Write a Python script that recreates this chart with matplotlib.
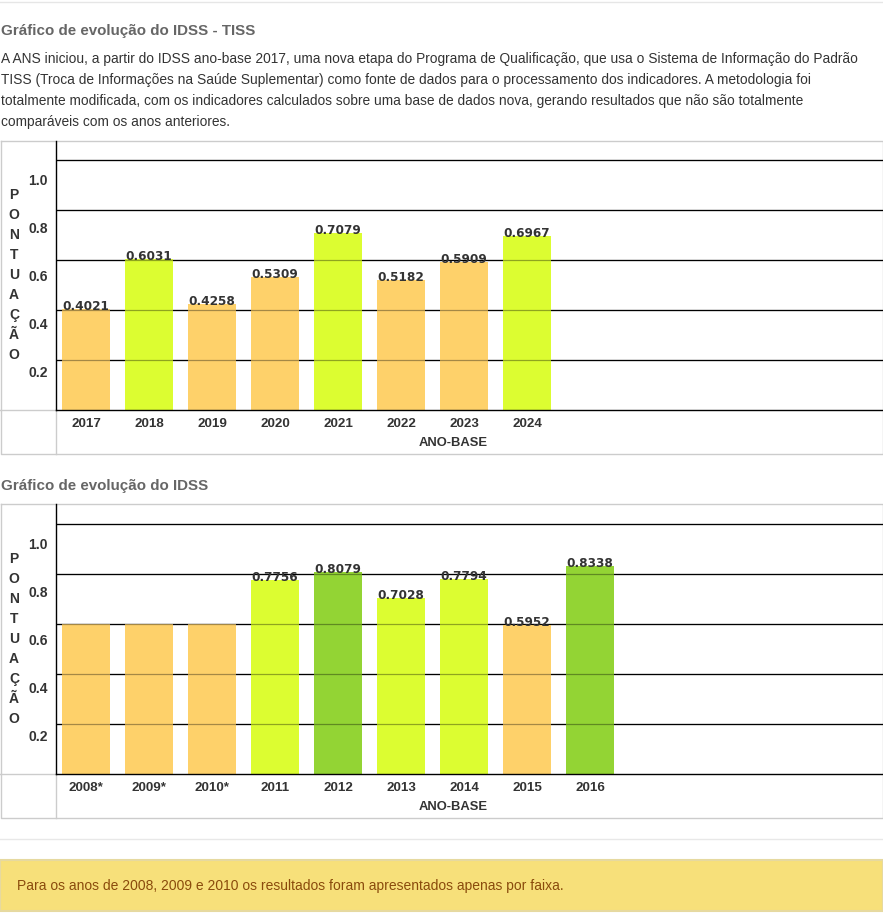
import matplotlib
matplotlib.use("Agg")
import matplotlib.pyplot as plt
import matplotlib.transforms as mtransforms

plt.rcParams['font.family'] = ['Liberation Sans', 'DejaVu Sans']

W, H = 883, 914
DPI = 100

# dados
anos_tiss = ["2017", "2018", "2019", "2020", "2021", "2022", "2023", "2024"]
idss_tiss = [0.4021, 0.6031, 0.4258, 0.5309, 0.7079, 0.5182, 0.5909, 0.6967]

anos_idss = ["2008*", "2009*", "2010*", "2011", "2012", "2013", "2014", "2015", "2016"]
idss_antigo = [0.6, 0.6, 0.6, 0.7756, 0.8079, 0.7028, 0.7794, 0.5952, 0.8338]
rotulos_antigo = [None, None, None, "0.7756", "0.8079", "0.7028", "0.7794", "0.5952", "0.8338"]

ticks_y = [0.2, 0.4, 0.6, 0.8, 1.0]

titulo1 = "Gráfico de evolução do IDSS - TISS"
titulo2 = "Gráfico de evolução do IDSS"
paragrafo = [
    "A ANS iniciou, a partir do IDSS ano-base 2017, uma nova etapa do Programa de Qualificação, que usa o Sistema de Informação do Padrão",
    "TISS (Troca de Informações na Saúde Suplementar) como fonte de dados para o processamento dos indicadores. A metodologia foi",
    "totalmente modificada, com os indicadores calculados sobre uma base de dados nova, gerando resultados que não são totalmente",
    "comparáveis com os anos anteriores.",
]
nota = "Para os anos de 2008, 2009 e 2010 os resultados foram apresentados apenas por faixa."

LARANJA = "#fed16a"
LIMA = "#dcfd31"
VERDE = "#93d434"
TXT = "#333333"
CINZA = "#cccccc"


def cor_faixa(v):
    if v <= 0.6:
        return LARANJA
    if v <= 0.8:
        return LIMA
    return VERDE


def rect(x, y, w, h):
    """pixel (topo-esquerda) -> coordenadas da figura"""
    return [x / W, 1 - (y + h) / H, w / W, h / H]


fig = plt.figure(figsize=(W / DPI, H / DPI), dpi=DPI)
fig.patch.set_facecolor("white")

bg = fig.add_axes([0, 0, 1, 1])
bg.set_xlim(0, W)
bg.set_ylim(H, 0)
bg.set_axis_off()

# linha do topo da pagina
bg.plot([0, W], [2, 2], color="#e6e6e6", lw=1)

bg.text(1, 31, titulo1, fontsize=10.9, fontweight="bold", color="#666666", va="center")
for k, linha in enumerate(paragrafo):
    bg.text(1, 59 + 21 * k, linha, fontsize=9.95, color=TXT, va="center")

bg.text(1, 486, titulo2, fontsize=10.9, fontweight="bold", color="#666666", va="center")


def grafico(topo, base, anos, valores, rotulos):
    # moldura cinza
    bg.plot([0.5, W - 0.5, W - 0.5, 0.5, 0.5], [topo, topo, base + 44, base + 44, topo],
            color=CINZA, lw=1)
    bg.plot([0, 56], [base, base], color=CINZA, lw=1)
    bg.plot([56, 56], [base, base + 44], color=CINZA, lw=1)

    ax = fig.add_axes(rect(56, topo, W - 56, base - topo))
    x = list(range(len(anos)))
    ax.set_xlim(-30 / 63, (W - 56 - 30) / 63)
    ax.set_ylim(0, (base - topo) / 250)

    for t in ticks_y:
        ax.axhline(t, color="black", lw=0.9, zorder=1)
        ax.axhline(t, color="black", lw=0.9, alpha=0.35, zorder=3)

    ax.bar(x, valores, width=48 / 63, color=[cor_faixa(v) for v in valores], zorder=2)

    for i, r in enumerate(rotulos):
        if r is None:
            continue
        ax.text(i, valores[i], r, ha="center", va="baseline", fontsize=8.7,
                fontweight="bold", color=TXT, zorder=4, family="DejaVu Sans",
                transform=ax.transData + mtransforms.ScaledTranslation(0, -1 / DPI, fig.dpi_scale_trans))

    ax.set_xticks(x)
    ax.set_xticklabels(anos, fontsize=9.6, fontweight="bold", color=TXT)
    ax.tick_params(axis="x", length=0, pad=6)
    ax.set_yticks([])

    for t in ticks_y:
        desloc = 13 + (t - 0.2) / 0.2 * 2.0
        tr = ax.get_yaxis_transform() + mtransforms.ScaledTranslation(
            -8 / DPI, -desloc / DPI, fig.dpi_scale_trans)
        ax.text(0, t, f"{t:.1f}", transform=tr, ha="right", va="center",
                fontsize=10, fontweight="bold", color=TXT)

    for s in ["top", "right"]:
        ax.spines[s].set_visible(False)
    ax.spines["left"].set_color("black")
    ax.spines["bottom"].set_color("black")
    ax.spines["left"].set_linewidth(1)
    ax.spines["bottom"].set_linewidth(1)
    ax.patch.set_alpha(0)

    # titulo do eixo y em letras empilhadas
    for k, letra in enumerate("PONTUAÇÃO"):
        bg.text(14, base - 215 + 20 * k, letra, ha="center", va="center",
                fontsize=10, fontweight="bold", color=TXT)
    bg.text(453, base + 33, "ANO-BASE", ha="center", va="center",
            fontsize=9.4, fontweight="bold", color=TXT)
    return ax


grafico(141, 410, anos_tiss, idss_tiss,
        [f"{v:.4f}" for v in idss_tiss])
grafico(504, 774, anos_idss, idss_antigo, rotulos_antigo)

# separador e caixa de nota
bg.plot([0, W], [839, 839], color="#e8e8e8", lw=1)
caixa = plt.Rectangle((0, 860), W, 51, facecolor="#f7e07a", edgecolor="#e6d9a0", lw=1.5)
bg.add_patch(caixa)
bg.text(17, 886, nota, fontsize=10, color="#8a4b0c", va="center")

fig.savefig("out.png", dpi=DPI)
